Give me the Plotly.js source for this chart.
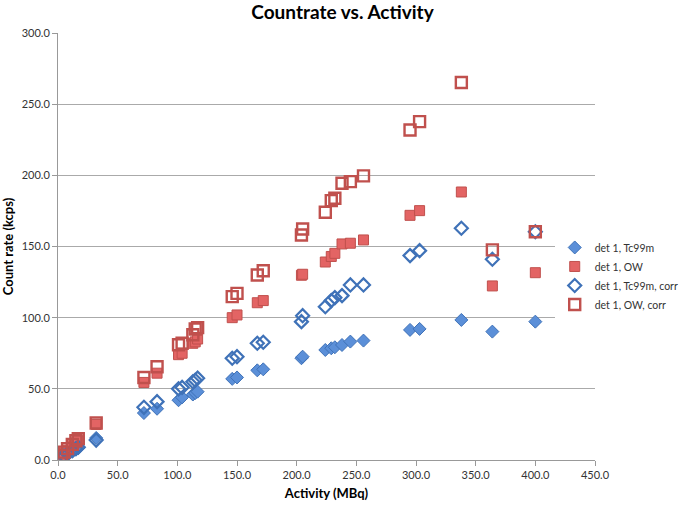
<!DOCTYPE html>
<html>
<head>
<meta charset="utf-8">
<script src="https://cdn.plot.ly/plotly-3.0.1.min.js"></script>
<style>html,body{margin:0;padding:0;background:#fff;}#chart{width:685px;height:505px;}</style>
</head>
<body>
<div id="chart"></div>
<script>
// Activity (MBq)
var activity = [3, 5, 8, 12, 15, 17, 32, 72, 83, 101, 104, 113, 115, 117, 146, 150, 167, 172, 204, 205, 224, 229, 232, 238, 245, 256, 295, 303, 338, 364, 400];
// Count rates (kcps)
var tc99m    = [1.5, 2.5, 4.0, 6.0, 7.5, 8.5, 15.5, 33, 36, 42, 44, 46, 47, 48, 57, 58, 63, 63.7, 71.5, 72.6, 77.3, 78.5, 79.2, 80.8, 83.2, 83.9, 91.4, 92.1, 98.4, 90.2, 97.2];
var ow       = [3.0, 5.0, 7.0, 10.0, 12.0, 13.5, 25.0, 54.5, 61, 74, 75, 82, 83, 85, 100, 101.9, 110.5, 112, 129.8, 130.5, 139.1, 143, 145.2, 151.8, 152.3, 154.6, 171.9, 175.2, 188.3, 122.3, 131.6];
var tc99mCorr= [1.5, 2.7, 4.3, 6.5, 8.0, 9.0, 14.0, 37, 41, 50, 51, 55, 56, 57.5, 71.5, 72.6, 82, 82.7, 97.2, 101.4, 107.7, 112, 114.1, 115.5, 123, 123, 143.6, 147.1, 162.8, 141, 160.4];
var owCorr   = [3.2, 5.5, 8.0, 11.0, 13.5, 15.0, 26.0, 58, 65.5, 81, 82, 88, 92, 93, 114.8, 117.1, 130, 133, 158.1, 162.3, 174.1, 182.2, 183.9, 194.4, 195.6, 199.6, 231.9, 237.7, 265.2, 147.6, 160.4];
var seriesNames = ['det 1, Tc99m', 'det 1, OW', 'det 1, Tc99m, corr', 'det 1, OW, corr'];

var FONT = 'Lato, "Open Sans", sans-serif';
var traces = [
  {x: activity, y: tc99m, name: seriesNames[0], mode: 'markers', type: 'scatter',
   marker: {symbol: 'diamond', size: 10, color: '#5b8fd8', line: {color: '#3f72b8', width: 1}}},
  {x: activity, y: ow, name: seriesNames[1], mode: 'markers', type: 'scatter',
   marker: {symbol: 'square', size: 10, color: '#e36464', line: {color: '#c0504d', width: 1}}},
  {x: activity, y: tc99mCorr, name: seriesNames[2], mode: 'markers', type: 'scatter',
   marker: {symbol: 'diamond-open', size: 10, color: '#3f72b8', line: {color: '#3f72b8', width: 2.2}}},
  {x: activity, y: owCorr, name: seriesNames[3], mode: 'markers', type: 'scatter',
   marker: {symbol: 'square-open', size: 11, color: '#c0504d', line: {color: '#c0504d', width: 2.4}}}
];

var layout = {
  width: 685, height: 505,
  margin: {l: 58, r: 90, t: 33, b: 45, autoexpand: false},
  paper_bgcolor: '#fff', plot_bgcolor: '#fff',
  font: {family: FONT, size: 11, color: '#333'},
  title: {text: '<b>Countrate vs. Activity</b>', x: 0.5, xref: 'container', y: 0.975, yanchor: 'middle',
          font: {family: FONT, size: 19, color: '#000'}},
  showlegend: true,
  legend: {x: 0.925, xanchor: 'left', y: 0.431, yanchor: 'middle', bgcolor: 'rgba(255,255,255,1)',
           font: {family: FONT, size: 10.5, color: '#333'}, tracegroupgap: 0},
  xaxis: {range: [0, 450], dtick: 50, tick0: 0, tickformat: '.1f', showgrid: false, zeroline: false,
          showline: true, linecolor: '#999', linewidth: 1, ticks: 'outside', ticklen: 5, tickcolor: '#999',
          tickfont: {family: FONT, size: 11, color: '#333'},
          title: {text: '<b>Activity (MBq)</b>', standoff: 8, font: {family: FONT, size: 13, color: '#000'}}},
  yaxis: {range: [0, 300], dtick: 50, tick0: 0, tickformat: '.1f', showgrid: true, gridcolor: '#aaa', gridwidth: 1.3,
          zeroline: false, showline: true, linecolor: '#999', linewidth: 1, ticks: 'outside', ticklen: 5, tickcolor: '#999',
          tickfont: {family: FONT, size: 11, color: '#333'},
          title: {text: '<b>Count rate (kcps)</b>', standoff: 8, font: {family: FONT, size: 13, color: '#000'}}}
};

Plotly.newPlot('chart', traces, layout, {displayModeBar: false, staticPlot: true});
</script>
</body>
</html>
